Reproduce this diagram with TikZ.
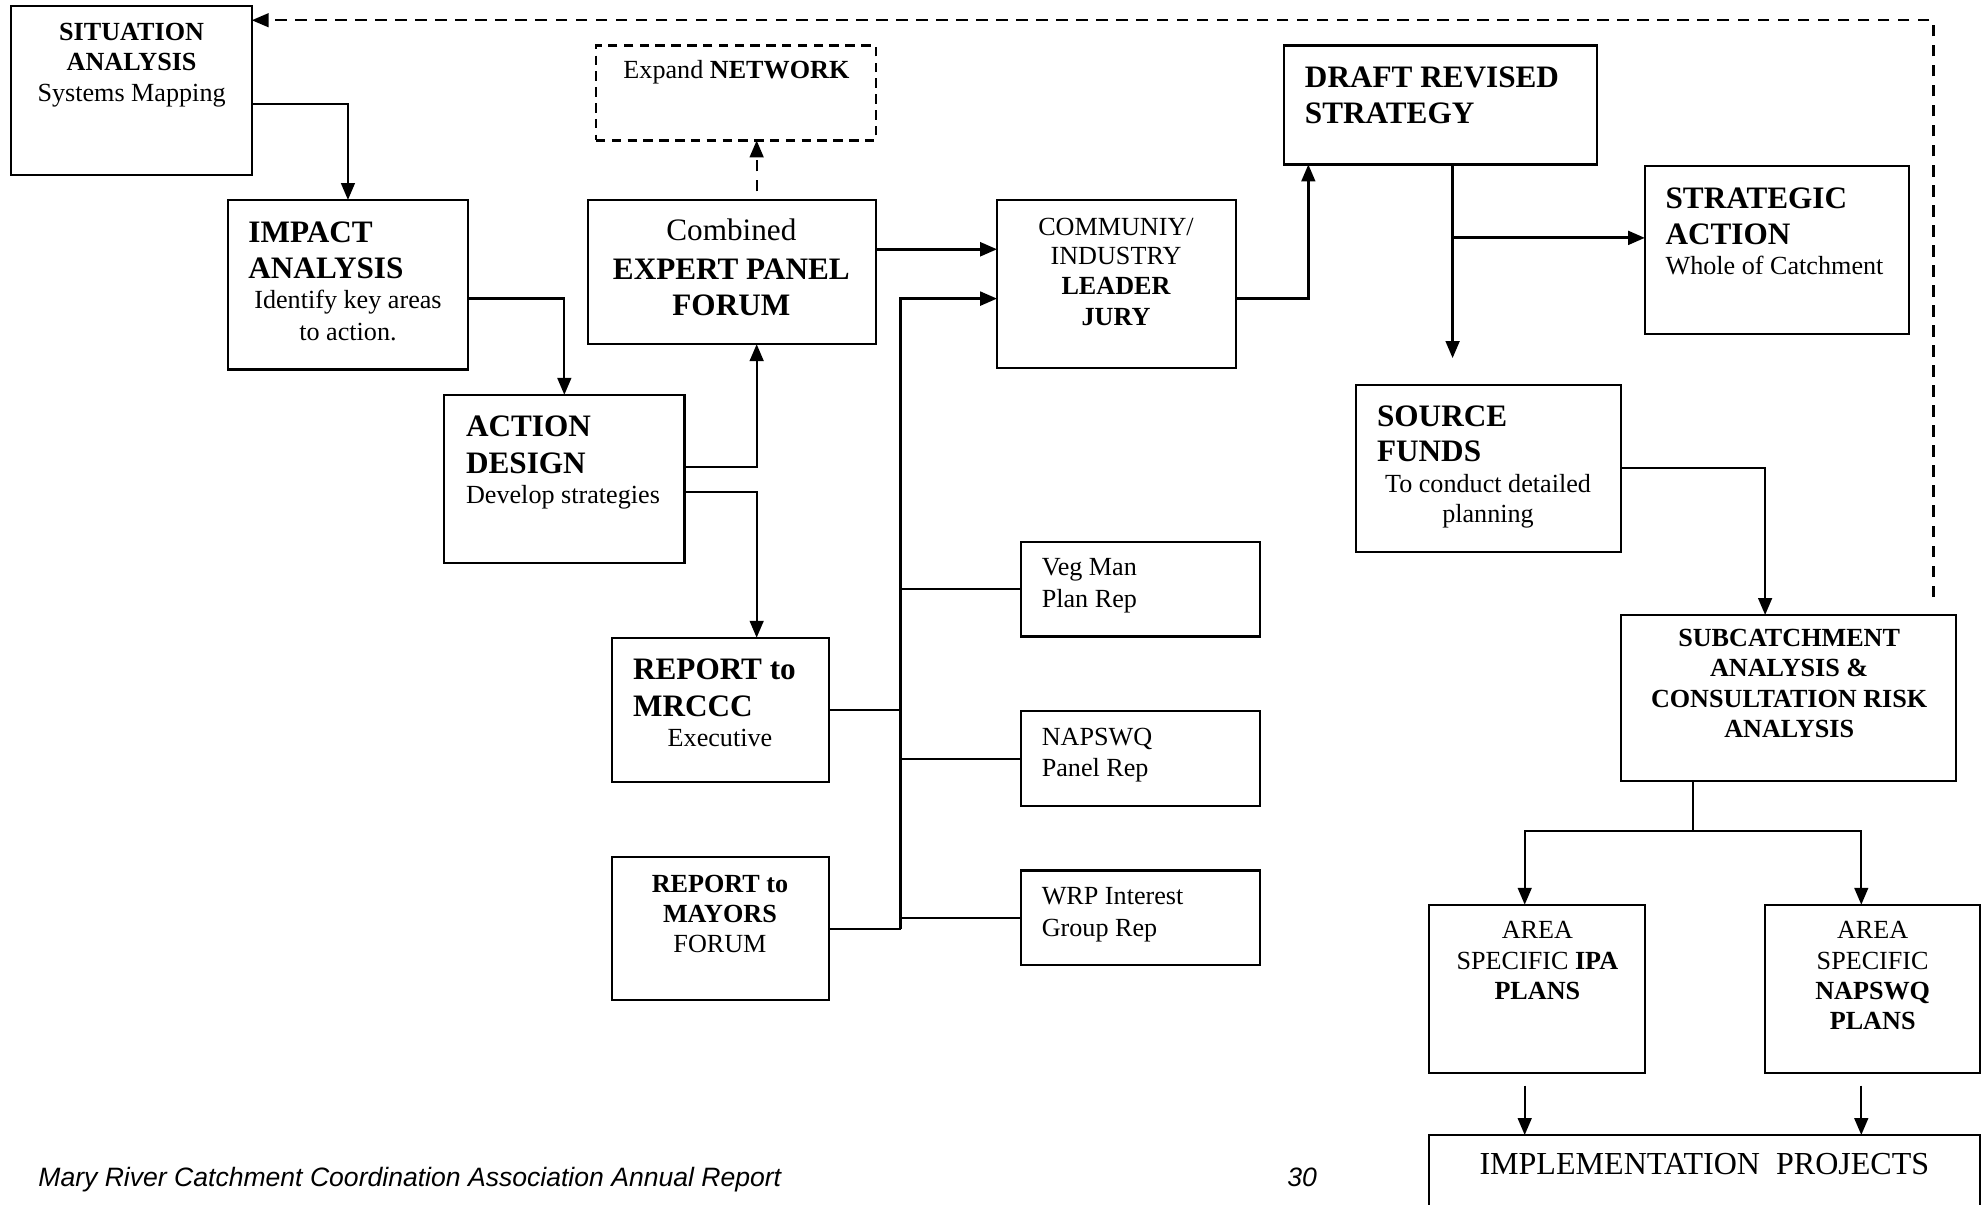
\documentclass[tikz,border=0pt]{standalone}
\usepackage{fontspec}
\setmainfont{Liberation Serif}
\newfontfamily\footfont{Liberation Sans}
\usetikzlibrary{arrows.meta}
\newcommand\fN{\fontsize{12.4}{14}\selectfont}
\newcommand\fL{\fontsize{14.8}{17}\selectfont}
\newcommand\fLB{\fontsize{14.8}{17}\selectfont\bfseries}
\newcommand\fNB{\fontsize{12.4}{14}\selectfont\bfseries}
\newcommand\mkbox[6]{\node[#6, minimum width={(#4-#2)*0.6pt}, minimum height={(#5-#3)*0.6pt}] (#1) at ({(#2+#4)/2},{(#3+#5)/2}) {};}
\newcommand\tl[5]{\node[anchor=#4, inner sep=0pt] (#1) at (#2,#3) {#5};}
\tikzset{
  boxst/.style={draw=black, line width=1pt, inner sep=0pt, outer sep=0pt, rectangle},
  dbox/.style={boxst, dash pattern=on 4.5pt off 3pt},
  conn/.style={line width=1.1pt, -{Triangle[length=8pt,width=6.5pt]}},
  plain/.style={line width=1pt},
  dconn/.style={line width=1.1pt, dash pattern=on 5.5pt off 4pt, -{Triangle[length=8pt,width=6.5pt]}}
}
\begin{document}
\begin{tikzpicture}[x=0.6pt,y=-0.6pt]
\useasboundingbox (0,0) rectangle (1568,952);
% boxes
\mkbox{sit}{9}{5}{199}{138}{boxst}
\mkbox{imp}{180}{158}{370}{292}{boxst}
\mkbox{act}{351}{312}{541}{445}{boxst}
\mkbox{net}{471}{36}{692}{111}{dbox}
\mkbox{exp}{465}{158}{692}{272}{boxst}
\mkbox{com}{788}{158}{977}{291}{boxst}
\mkbox{dr}{1015}{36}{1262}{130}{boxst}
\mkbox{sa}{1300}{131}{1509}{264}{boxst}
\mkbox{src}{1072}{304}{1281}{436}{boxst}
\mkbox{sub}{1281}{486}{1546}{617}{boxst}
\mkbox{ipa}{1129}{715}{1300}{848}{boxst}
\mkbox{nap}{1395}{715}{1565}{848}{boxst}
\mkbox{impl}{1129}{897}{1565}{975}{boxst}
\mkbox{veg}{807}{428}{996}{503}{boxst}
\mkbox{nps}{807}{562}{996}{637}{boxst}
\mkbox{wrp}{807}{688}{996}{763}{boxst}
\mkbox{mrc}{484}{504}{655}{618}{boxst}
\mkbox{may}{484}{677}{655}{790}{boxst}
% texts
\tl{sit1}{104}{32}{base}{\fNB SITUATION}
\tl{sit2}{104}{56}{base}{\fNB ANALYSIS}
\tl{sit3}{104}{80}{base}{\fN Systems Mapping}
\tl{imp1}{196}{192}{base west}{\fLB IMPACT}
\tl{imp2}{196}{220}{base west}{\fLB ANALYSIS}
\tl{imp3}{275}{244}{base}{\fN Identify key areas}
\tl{imp4}{275}{269}{base}{\fN to action.}
\tl{act1}{368}{345}{base west}{\fLB ACTION}
\tl{act2}{368}{374}{base west}{\fLB DESIGN}
\tl{act3}{368}{398}{base west}{\fN Develop strategies}
\tl{net1}{582}{62}{base}{\fN Expand \textbf{NETWORK}}
\tl{exp1}{578}{190}{base}{\fL Combined}
\tl{exp2}{578}{221}{base}{\fLB EXPERT PANEL}
\tl{exp3}{578}{249}{base}{\fLB FORUM}
\tl{com1}{882}{186}{base}{\fN COMMUNIY/}
\tl{com2}{882}{209}{base}{\fN INDUSTRY}
\tl{com3}{882}{233}{base}{\fNB LEADER}
\tl{com4}{882}{257}{base}{\fNB JURY}
\tl{dr1}{1031}{69}{base west}{\fLB DRAFT REVISED}
\tl{dr2}{1031}{98}{base west}{\fLB STRATEGY}
\tl{sa1}{1316}{165}{base west}{\fLB STRATEGIC}
\tl{sa2}{1316}{193}{base west}{\fLB ACTION}
\tl{sa3}{1316}{217}{base west}{\fN Whole of Catchment}
\tl{src1}{1088}{337}{base west}{\fLB SOURCE}
\tl{src2}{1088}{365}{base west}{\fLB FUNDS}
\tl{src3}{1176}{389}{base}{\fN To conduct detailed}
\tl{src4}{1176}{413}{base}{\fN planning}
\tl{sub1}{1414}{511}{base}{\fNB SUBCATCHMENT}
\tl{sub2}{1414}{535}{base}{\fNB ANALYSIS \&}
\tl{sub3}{1414}{559}{base}{\fNB CONSULTATION RISK}
\tl{sub4}{1414}{583}{base}{\fNB ANALYSIS}
\tl{ipa1}{1215}{742}{base}{\fN AREA}
\tl{ipa2}{1215}{766}{base}{\fN SPECIFIC \textbf{IPA}}
\tl{ipa3}{1215}{790}{base}{\fNB PLANS}
\tl{nap1}{1480}{742}{base}{\fN AREA}
\tl{nap2}{1480}{766}{base}{\fN SPECIFIC}
\tl{nap3}{1480}{790}{base}{\fNB NAPSWQ}
\tl{nap4}{1480}{814}{base}{\fNB PLANS}
\tl{impl1}{1347}{928}{base}{\fontsize{15.2}{17}\selectfont IMPLEMENTATION\ \ PROJECTS}
\tl{veg1}{823}{455}{base west}{\fN Veg Man}
\tl{veg2}{823}{480}{base west}{\fN Plan Rep}
\tl{nps1}{823}{589}{base west}{\fN NAPSWQ}
\tl{nps2}{823}{614}{base west}{\fN Panel Rep}
\tl{wrp1}{823}{715}{base west}{\fN WRP Interest}
\tl{wrp2}{823}{740}{base west}{\fN Group Rep}
\tl{mrc1}{500}{537}{base west}{\fLB REPORT to}
\tl{mrc2}{500}{566}{base west}{\fLB MRCCC}
\tl{mrc3}{569}{590}{base}{\fN Executive}
\tl{may1}{569}{705}{base}{\fNB REPORT to}
\tl{may2}{569}{729}{base}{\fNB MAYORS}
\tl{may3}{569}{753}{base}{\fN FORUM}
\tl{foot1}{30}{938}{base west}{\footfont\itshape\fontsize{12.6}{14}\selectfont Mary River Catchment Coordination Association Annual Report}
\tl{foot2}{1017}{938}{base west}{\footfont\itshape\fontsize{12.6}{14}\selectfont 30}
% coordinates
\coordinate (bb) at (712,734);
\coordinate (dd) at (1148,283);
\coordinate (sj) at (1338,657);
\coordinate (fb) at (1528,472);
% connectors
\draw[conn] (sit.east |- 0,82) -| (imp.north);
\draw[conn] (imp.east |- 0,236) -| (act.north);
\draw[conn] (act.east |- 0,369) -| (exp.south -| 598,0);
\draw[conn] (act.east |- 0,389) -| (mrc.north -| 598,0);
\draw[dconn] ([yshift=4pt]exp.north -| 598,0) -- (net.south -| 598,0);
\draw[conn, line width=1.4pt] (exp.east |- 0,197) -- (com.west |- 0,197);
\draw[conn, line width=1.4pt] (bb) |- (com.west |- 0,236);
\draw[plain] (mrc.east |- 0,561) -- (bb |- 0,561);
\draw[plain] (may.east |- 0,734) -- (bb);
\draw[plain] (veg.west) -- (veg.west -| bb);
\draw[plain] (nps.west) -- (nps.west -| bb);
\draw[plain] (wrp.west) -- (wrp.west -| bb);
\draw[conn] (com.east |- 0,236) -| (dr.south -| 1034,0);
\draw[conn] (dr.south -| 1148,0) -- (dd);
\draw[conn, line width=1.4pt] (1148,188) -- (sa.west |- 0,188);
\draw[conn] (src.east |- 0,370) -| (sub.north -| 1395,0);
\draw[plain] (sub.south -| sj) -- (sj);
\draw[conn] (sj) -| (ipa.north -| 1205,0);
\draw[conn] (sj) -| (nap.north -| 1471,0);
\draw[conn] ([yshift=-6pt]ipa.south -| 1205,0) -- (impl.north -| 1205,0);
\draw[conn] ([yshift=-6pt]nap.south -| 1471,0) -- (impl.north -| 1471,0);
\draw[dconn] (fb) -- (1528,16) -- (sit.east |- 0,16);
\end{tikzpicture}
\end{document}
